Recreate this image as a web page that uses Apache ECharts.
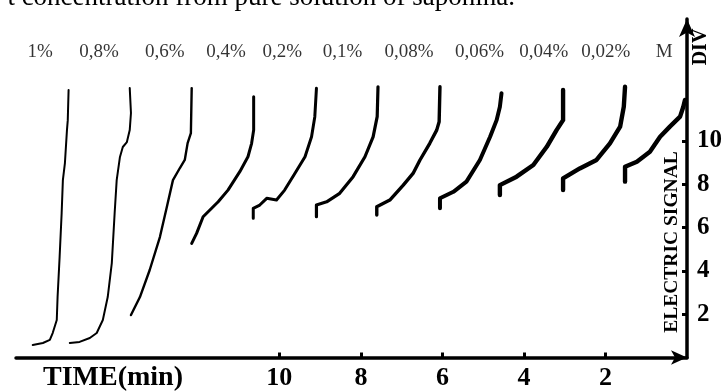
<!DOCTYPE html>
<html>
<head>
<meta charset="utf-8">
<script src="https://cdn.jsdelivr.net/npm/echarts@6/dist/echarts.min.js"></script>
<style>html,body{margin:0;padding:0;background:#fff}#c{width:725px;height:392px}</style>
</head>
<body>
<div id="c"></div>
<script>
// ---- data (time in min, signal in DIV) ----
const concLabels = ['1%', '0,8%', '0,6%', '0,4%', '0,2%', '0,1%', '0,08%', '0,06%', '0,04%', '0,02%', 'M'];
const labelTime = [15.87, 14.42, 12.81, 11.31, 9.93, 8.45, 6.82, 5.09, 3.51, 1.99, 0.56];
const labelLevel = 14.1;
const timeTicks = [2, 4, 6, 8, 10];
const signalTicks = [2, 4, 6, 8, 10];

const curve1 = [[16.05,0.58],[15.80,0.67],[15.63,0.81],[15.56,1.13],[15.46,1.73],[15.44,2.79],[15.39,4.64],[15.34,6.67],[15.31,8.19],[15.26,8.98],[15.21,10.50],[15.19,10.96],[15.17,12.35]];
const curve2 = [[15.14,0.67],[14.90,0.72],[14.65,0.90],[14.48,1.13],[14.33,1.73],[14.21,2.79],[14.11,4.36],[14.04,6.67],[13.99,8.19],[13.91,9.26],[13.84,9.72],[13.74,9.95],[13.67,10.50],[13.64,11.29],[13.67,12.44]];
const curve3 = [[13.64,1.96],[13.42,2.79],[13.18,4.04],[12.93,5.56],[12.76,6.95],[12.61,8.19],[12.44,8.75],[12.32,9.12],[12.25,9.90],[12.17,10.36],[12.15,12.44]];
const curve4 = [[12.15,5.27],[12.03,5.73],[11.87,6.50],[11.66,6.89],[11.50,7.19],[11.26,7.73],[10.97,8.58],[10.77,9.27],[10.68,9.89],[10.63,10.50],[10.63,12.04]];
const curve5 = [[10.64,6.43],[10.64,6.89],[10.48,7.04],[10.31,7.35],[10.07,7.27],[9.87,7.73],[9.62,8.50],[9.37,9.27],[9.21,10.19],[9.13,11.12],[9.09,12.43]];
const curve6 = [[9.09,6.50],[9.09,7.04],[8.84,7.19],[8.52,7.58],[8.19,8.35],[7.90,9.27],[7.70,10.19],[7.60,11.12],[7.58,12.50]];
const curve7 = [[7.61,6.58],[7.61,6.96],[7.29,7.27],[6.96,7.96],[6.72,8.50],[6.55,9.12],[6.31,9.89],[6.14,10.50],[6.08,10.89],[6.06,12.50]];
const curve8 = [[6.06,6.89],[6.06,7.35],[5.73,7.65],[5.41,8.12],[5.08,9.12],[4.83,10.19],[4.67,10.96],[4.59,11.58],[4.55,12.20]];
const curve9 = [[4.59,7.50],[4.59,7.96],[4.18,8.35],[3.77,8.89],[3.44,9.73],[3.20,10.50],[3.04,10.96],[3.04,12.35]];
const curve10 = [[3.04,7.73],[3.04,8.27],[2.63,8.73],[2.22,9.12],[1.89,9.89],[1.64,10.66],[1.55,11.58],[1.52,12.50]];
const curveM = [[1.52,8.12],[1.52,8.81],[1.23,9.04],[0.91,9.50],[0.66,10.19],[0.42,10.66],[0.17,11.12],[0.09,11.58],[0.05,11.89]];

const curves = [curve1, curve2, curve3, curve4, curve5, curve6, curve7, curve8, curve9, curve10, curveM];
const widths = [2, 2, 2.4, 3, 3, 3.2, 3.4, 4, 4.4, 4.4, 4.4];

const serif = '"Liberation Serif", "DejaVu Serif", serif';
const chart = echarts.init(document.getElementById('c'), null, {renderer: 'canvas'});

const series = curves.map((c, i) => ({
  type: 'line', data: c, showSymbol: false, symbol: 'none', animation: false,
  lineStyle: {color: '#000', width: widths[i], join: 'round', cap: 'round'},
  z: 3
}));
series.push({
  type: 'scatter', symbolSize: 0, animation: false, silent: true,
  data: concLabels.map((n, i) => ({name: n, value: [labelTime[i], labelLevel]})),
  label: {show: true, position: 'inside', formatter: p => p.name, color: '#000', fontFamily: serif, fontSize: 19}
});

chart.setOption({
  animation: false,
  backgroundColor: '#fff',
  grid: {left: 16, right: 38, top: 19, bottom: 34.5},
  xAxis: {
    type: 'value', inverse: true, min: 0, max: 16.46, interval: 2,
    splitLine: {show: false},
    axisLine: {show: true, symbol: ['none', 'arrow'], symbolSize: [11, 16], lineStyle: {color: '#000', width: 3.5}},
    axisTick: {show: true, inside: true, length: 5, lineStyle: {color: '#000', width: 3}, customValues: timeTicks},
    axisLabel: {show: true, customValues: timeTicks, margin: 8, color: '#000', fontFamily: serif, fontWeight: 'bold', fontSize: 26}
  },
  yAxis: {
    type: 'value', position: 'right', min: 0, max: 15.63, interval: 2,
    splitLine: {show: false},
    axisLine: {show: true, symbol: ['none', 'arrow'], symbolSize: [12, 18], lineStyle: {color: '#000', width: 3.5}},
    axisTick: {show: true, inside: true, length: 5, lineStyle: {color: '#000', width: 3}, customValues: signalTicks},
    axisLabel: {show: true, customValues: signalTicks, margin: 10, align: 'left', color: '#000', fontFamily: serif, fontWeight: 'bold', fontSize: 25}
  },
  graphic: [
    {type: 'text', x: 515, y: 11.5, style: {text: 't concentration from pure solution of saponina.', font: '27px ' + serif, fill: '#000', textAlign: 'right', textVerticalAlign: 'bottom'}},
    {type: 'text', x: 43, y: 378, style: {text: 'TIME(min)', font: 'bold 28px ' + serif, fill: '#000', textAlign: 'left', textVerticalAlign: 'middle'}},
    {type: 'text', x: 672, y: 242, rotation: Math.PI / 2, style: {text: 'ELECTRIC SIGNAL', font: 'bold 19.5px ' + serif, fill: '#000', textAlign: 'center', textVerticalAlign: 'middle'}},
    {type: 'text', x: 701, y: 47, rotation: Math.PI / 2, style: {text: 'DIV', font: 'bold 20px ' + serif, fill: '#000', textAlign: 'center', textVerticalAlign: 'middle'}}
  ],
  series: series
});
</script>
</body>
</html>
